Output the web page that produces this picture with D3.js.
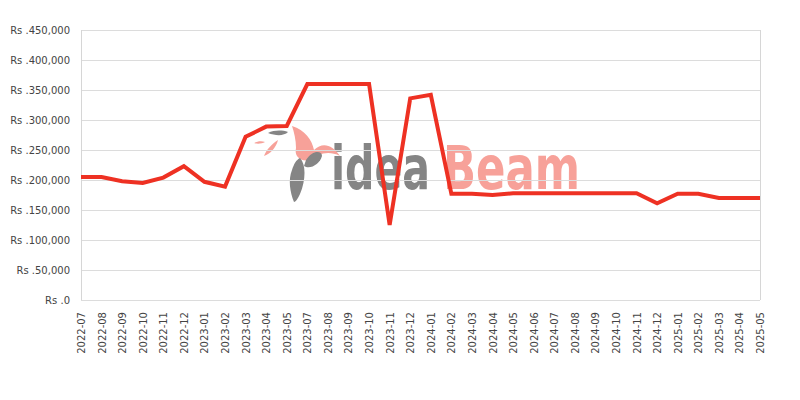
<!DOCTYPE html>
<html>
<head>
<meta charset="utf-8">
<script src="https://cdn.jsdelivr.net/npm/d3@7/dist/d3.min.js"></script>
<style>
  html, body { margin: 0; padding: 0; background: #fff; }
  svg { display: block; }
</style>
</head>
<body>
<svg id="chart" width="800" height="400"></svg>
<script>
const months = ["2022-07","2022-08","2022-09","2022-10","2022-11","2022-12","2023-01","2023-02","2023-03","2023-04","2023-05","2023-07","2023-08","2023-09","2023-10","2023-11","2023-12","2024-01","2024-02","2024-03","2024-04","2024-05","2024-06","2024-07","2024-08","2024-09","2024-10","2024-11","2024-12","2025-01","2025-02","2025-03","2025-04","2025-05"];
const prices = [205000,205000,198000,195000,204000,223000,197000,189000,272000,289000,290000,360000,360000,360000,360000,125000,336000,342000,177000,177000,175000,178000,178000,178000,178000,178000,178000,178000,161000,177000,177000,170000,170000,170000];
const yTicks = [0,50000,100000,150000,200000,250000,300000,350000,400000,450000];

const svg = d3.select("#chart");
const m = {left: 81, right: 760, top: 30, bottom: 300};
const x = d3.scalePoint().domain(months).range([m.left, m.right]);
const y = d3.scaleLinear().domain([0, 450000]).range([m.bottom, m.top]);
const fmt = d3.format(",");
const font = "DejaVu Sans, sans-serif";

// watermark
const wm = svg.append("g").attr("class", "watermark");
wm.append("text").attr("transform", "translate(331,189) scale(1,1.33)")
  .attr("font-family", "DejaVu Sans Condensed, DejaVu Sans, sans-serif")
  .attr("font-size", 45).attr("font-weight", "bold").attr("fill", "#858585")
  .attr("textLength", 99).attr("lengthAdjust", "spacingAndGlyphs").text("idea");
wm.append("text").attr("transform", "translate(443,189) scale(1,1.33)")
  .attr("font-family", "DejaVu Sans Condensed, DejaVu Sans, sans-serif")
  .attr("font-size", 45).attr("font-weight", "bold").attr("fill", "#f7a199")
  .attr("textLength", 137).attr("lengthAdjust", "spacingAndGlyphs").text("Beam");
// bird logo (decorative)
wm.append("path").attr("fill", "#f7a199")
  .attr("d", "M292,126 C305,130 312,140 314,150 C322,142 332,144 340,156 C328,150 318,154 310,160 C300,162 294,156 296,148 C296,140 294,132 292,126 Z");
wm.append("path").attr("fill", "#858585")
  .attr("d", "M300,158 C306,164 306,180 300,194 C298,198 296,202 294,202 C290,192 288,180 292,170 C294,164 296,160 300,158 Z");
wm.append("path").attr("fill", "#858585")
  .attr("d", "M306,160 C312,150 322,150 322,156 C320,164 310,170 304,166 Z");
wm.append("path").attr("fill", "#858585")
  .attr("d", "M268,133 C274,130 282,130 288,132 C284,136 276,136 268,133 Z");
wm.append("path").attr("fill", "#f7a199")
  .attr("d", "M265,142 C262,144 256,144 254,143 C258,141 262,141 265,142 Z");
wm.append("path").attr("fill", "#f7a199")
  .attr("d", "M278,140 C276,148 270,154 264,156 C266,150 272,144 278,140 Z");

// gridlines
svg.append("g").selectAll("line").data(yTicks).join("line")
  .attr("x1", m.left).attr("x2", m.right)
  .attr("y1", d => y(d)).attr("y2", d => y(d))
  .attr("stroke", "#dcdcdc").attr("stroke-width", 1).attr("shape-rendering", "crispEdges");
// frame sides
svg.append("line").attr("x1", m.left).attr("x2", m.left).attr("y1", m.top).attr("y2", m.bottom)
  .attr("stroke", "#d6d6d6").attr("shape-rendering", "crispEdges");
svg.append("line").attr("x1", m.right).attr("x2", m.right).attr("y1", m.top).attr("y2", m.bottom)
  .attr("stroke", "#d6d6d6").attr("shape-rendering", "crispEdges");

// y labels
const yAxis = d3.axisLeft(y).tickValues(yTicks).tickSize(0).tickPadding(11)
  .tickFormat(d => "Rs ." + fmt(d));
const gy = svg.append("g").attr("transform", `translate(${m.left},0)`).call(yAxis);
gy.select(".domain").remove();
gy.selectAll("text").attr("font-family", font).attr("font-size", 10).attr("fill", "#444");

// x labels
const xAxis = d3.axisBottom(x).tickSize(0).tickPadding(0);
const gx = svg.append("g").attr("transform", `translate(0,${m.bottom})`).call(xAxis);
gx.select(".domain").remove();
gx.selectAll("text")
  .attr("font-family", font).attr("font-size", 10).attr("fill", "#444")
  .attr("text-anchor", "end")
  .attr("transform", "rotate(-90)")
  .attr("x", -12).attr("y", 0).attr("dy", "0.35em");

// line
const line = d3.line().x((d, i) => x(months[i])).y(d => y(d));
svg.append("path").datum(prices)
  .attr("fill", "none").attr("stroke", "#ee3123").attr("stroke-width", 4)
  .attr("stroke-linejoin", "miter").attr("d", line);
</script>
</body>
</html>
